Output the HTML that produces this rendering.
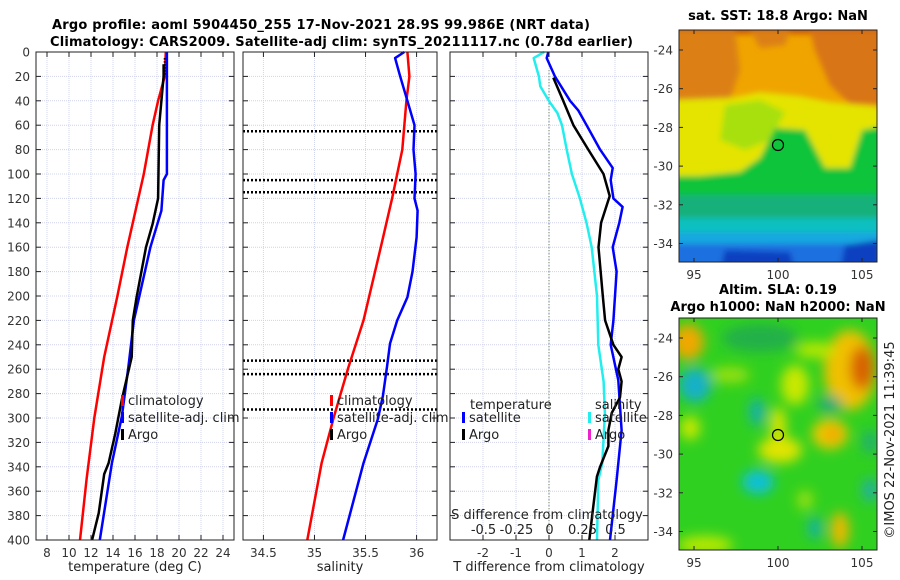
<!DOCTYPE html>
<html><head><meta charset="utf-8">
<style>
html,body{margin:0;padding:0;background:#fff;}
svg{display:block;font-family:"DejaVu Sans","Liberation Sans",sans-serif;}
.tk{font-size:12px;fill:#333;}
.tt{font-size:13px;font-weight:bold;fill:#000;}
.lg{font-size:13px;fill:#222;}
</style></head>
<body>
<svg id="fig" width="900" height="580" viewBox="0 0 900 580">
<defs>
<filter id="bl" x="-10%" y="-10%" width="120%" height="120%"><feGaussianBlur stdDeviation="3"/></filter>
<filter id="bl2" x="-10%" y="-10%" width="120%" height="120%"><feGaussianBlur stdDeviation="6"/></filter>
<clipPath id="c1"><rect x="679" y="30" width="198" height="232"/></clipPath>
<clipPath id="c2"><rect x="679" y="318" width="198" height="232"/></clipPath>
</defs>
<text class="tt" x="52" y="29" textLength="538">Argo profile: aoml 5904450_255 17-Nov-2021 28.9S 99.986E (NRT data)</text>
<text class="tt" x="50" y="46" textLength="583">Climatology: CARS2009. Satellite-adj clim: synTS_20211117.nc (0.78d earlier)</text>

<g id="p1"></g>
<g id="p2"></g>
<g id="p3"></g>

<!-- SST map -->
<g>
<text class="tt" x="778" y="20" text-anchor="middle">sat. SST: 18.8 Argo: NaN</text>
<g clip-path="url(#c1)">
<rect x="679" y="30" width="198" height="232" fill="#f0a400"/>
<g filter="url(#bl)">
<rect x="670" y="20" width="220" height="14" fill="#c85a10"/>
<path d="M670 30 L735 30 L740 70 L730 100 L700 102 L670 100Z" fill="#dc8018"/>
<path d="M750 30 L790 30 L785 45 L760 48Z" fill="#dc8018"/>
<path d="M810 30 L890 30 L890 105 L850 104 L830 85 L815 50Z" fill="#d87418"/>
<path d="M670 100 L730 98 L760 92 L800 96 L830 102 L890 108 L890 160 L870 163 L850 168 L825 168 L805 140 L775 128 L760 158 L740 172 L700 176 L670 176Z" fill="#e4e400"/>
<path d="M725 105 L760 100 L785 112 L770 140 L745 150 L720 140Z" fill="#a8e010"/>
<path d="M670 176 L700 176 L740 172 L760 158 L775 128 L805 130 L825 168 L850 168 L862 130 L890 125 L890 205 L670 205Z" fill="#10c43a"/>
<rect x="670" y="195" width="220" height="25" fill="#14b07a"/>
<rect x="670" y="218" width="220" height="18" fill="#10c0c0"/>
<rect x="670" y="232" width="220" height="14" fill="#18a8e0"/>
<rect x="670" y="244" width="220" height="26" fill="#1a70e0"/>
<path d="M725 250 L790 252 L795 270 L720 270Z" fill="#1040c0"/>
<path d="M845 245 L880 240 L880 270 L840 270Z" fill="#1040c0"/>
</g>
</g>
<rect x="679" y="30" width="198" height="232" fill="none" stroke="#222" stroke-width="1"/>
<circle cx="778" cy="145" r="5.5" fill="none" stroke="#000" stroke-width="1.2"/>
<g id="m1ax"></g>
</g>

<!-- SLA map -->
<g>
<text class="tt" x="778" y="294" text-anchor="middle">Altim. SLA: 0.19</text>
<text class="tt" x="778" y="311" text-anchor="middle">Argo h1000: NaN h2000: NaN</text>
<g clip-path="url(#c2)">
<rect x="679" y="318" width="198" height="232" fill="#30d020"/>
<g filter="url(#bl2)">
<ellipse cx="760" cy="338" rx="38" ry="14" fill="#20b048"/>
<ellipse cx="688" cy="342" rx="16" ry="18" fill="#f0a800"/>
<ellipse cx="850" cy="370" rx="26" ry="40" fill="#f0c000"/>
<ellipse cx="862" cy="368" rx="12" ry="22" fill="#d86000"/>
<ellipse cx="815" cy="350" rx="20" ry="8" fill="#b8e800"/>
<ellipse cx="795" cy="385" rx="14" ry="20" fill="#c8e800"/>
<ellipse cx="730" cy="375" rx="20" ry="8" fill="#98e010"/>
<ellipse cx="780" cy="450" rx="22" ry="13" fill="#e0e400"/>
<ellipse cx="778" cy="425" rx="8" ry="18" fill="#d8e400"/>
<ellipse cx="830" cy="434" rx="18" ry="15" fill="#f0c800"/>
<ellipse cx="833" cy="434" rx="8" ry="7" fill="#f0a000"/>
<ellipse cx="690" cy="428" rx="10" ry="12" fill="#c8e800"/>
<ellipse cx="695" cy="385" rx="16" ry="17" fill="#18b0c8"/>
<ellipse cx="757" cy="412" rx="8" ry="14" fill="#18b0a8"/>
<ellipse cx="758" cy="482" rx="16" ry="12" fill="#10c0d8"/>
<ellipse cx="830" cy="404" rx="12" ry="8" fill="#20a880"/>
<ellipse cx="815" cy="528" rx="7" ry="11" fill="#18b0a8"/>
<ellipse cx="840" cy="530" rx="9" ry="18" fill="#f0b800"/>
<ellipse cx="705" cy="545" rx="28" ry="9" fill="#b8e800"/>
<ellipse cx="870" cy="490" rx="8" ry="12" fill="#20b0a0"/>
<ellipse cx="870" cy="442" rx="8" ry="12" fill="#20b070"/>
<ellipse cx="805" cy="500" rx="8" ry="10" fill="#98e010"/>
</g>
</g>
<rect x="679" y="318" width="198" height="232" fill="none" stroke="#222" stroke-width="1"/>
<circle cx="778" cy="435" r="5.5" fill="none" stroke="#000" stroke-width="1.2"/>
<g id="m2ax"></g>
<text class="lg" transform="translate(894,440) rotate(-90)" text-anchor="middle" font-size="13">©IMOS 22-Nov-2021 11:39:45</text>
</g>
</svg>
<script>
// ===== data =====
const depthTicks = [0,20,40,60,80,100,120,140,160,180,200,220,240,260,280,300,320,340,360,380,400];
const tempTicks = [8,10,12,14,16,18,20,22,24];
const salTicks = [34.5,35,35.5,36];
const tdiffTicks = [-2,-1,0,1,2];
const sdiffTicks = [-0.5,-0.25,0,0.25,0.5];
const sdiffLabels = ["-0.5","-0.25","0","0.25","0.5"];

const climTDepth = [0,20,40,60,80,100,120,160,200,250,300,350,400];
const climT      = [18.8,18.7,18.1,17.6,17.2,16.8,16.3,15.3,14.4,13.2,12.3,11.6,11.0];
const satTDepth = [0,100,105,130,160,220,258,299,337,400];
const satT      = [18.9,18.9,18.6,18.4,17.4,15.9,15.4,14.8,13.9,12.8];
const argoTDepth = [10,20,40,60,120,141,160,201,220,250,285,313,337,346,378,400];
const argoT      = [18.6,18.6,18.4,18.2,18.1,17.6,17.0,16.15,15.8,15.7,14.8,14.2,13.6,13.2,12.7,12.1];
const argoTdotsDepth = [5,10,15,20];

const climSDepth = [0,20,40,80,100,120,160,220,259,299,337,400];
const climS      = [35.91,35.93,35.90,35.86,35.81,35.76,35.65,35.48,35.33,35.19,35.07,34.93];
const satSDepth = [0,5,20,40,60,80,100,120,130,152,180,201,220,239,258,282,301,337,400];
const satS      = [35.88,35.79,35.84,35.91,35.98,35.97,35.99,35.98,36.01,36.0,35.96,35.91,35.81,35.74,35.71,35.67,35.62,35.48,35.28];
const mixedLayerDepths = [65,105,115,253,264,293];

const dTsatDepth = [0,5,20,40,48,60,80,95,105,120,127,140,160,180,220,240,269,310,351,400];
const dTsat      = [-0.02,-0.07,0.18,0.64,0.89,1.14,1.55,1.93,1.87,1.95,2.23,2.13,1.93,2.05,1.95,1.87,2.1,2.2,2.05,1.85];
const dTargoDepth = [21,40,60,80,100,118,140,160,200,220,240,250,260,270,283,296,310,323,340,348,373,400];
const dTargo      = [0.13,0.43,0.74,1.19,1.65,1.84,1.58,1.50,1.63,1.7,1.95,2.2,2.1,2.2,2.15,1.9,1.8,1.8,1.55,1.45,1.34,1.22];
const dSsatDepth = [0,5,20,28,40,50,60,80,100,120,140,160,200,240,270,296,337,351,400];
const dSsat      = [-0.04,-0.12,-0.08,-0.07,-0.005,0.06,0.095,0.13,0.17,0.23,0.28,0.32,0.36,0.37,0.41,0.42,0.40,0.37,0.36];

const mapLonTicks = [95,100,105];
const mapLatTicks = [-24,-26,-28,-30,-32,-34];

// ===== helpers =====
const NS = "http://www.w3.org/2000/svg";
function mk(parent, tag, attrs, txt){
  const e = document.createElementNS(NS, tag);
  for (const k in attrs) e.setAttribute(k, attrs[k]);
  if (txt !== undefined) e.textContent = txt;
  parent.appendChild(e);
  return e;
}
const Y0 = 52, Y1 = 540;
function yD(d){ return Y0 + (d/400)*(Y1-Y0); }
function lin(d0,d1,r0,r1){ return v => r0 + (v-d0)/(d1-d0)*(r1-r0); }

function frame(g, x0, x1, xs, xticks){
  xticks.forEach(t => {
    const l = mk(g,'line',{x1:xs(t),x2:xs(t),y1:Y0,y2:Y1,stroke:'#d0d4ec','stroke-width':1,'stroke-dasharray':'1,1'});
    
    
  });
  depthTicks.forEach(d => {
    const l = mk(g,'line',{x1:x0,x2:x1,y1:yD(d),y2:yD(d),stroke:'#d0d4ec','stroke-width':1,'stroke-dasharray':'1,1'});
    
    
  });
}
function axes(g, x0, x1, xs, xticks, xlabels, showY, tickLabelsBelow){
  const r = mk(g,'rect',{x:x0,y:Y0,width:x1-x0,height:Y1-Y0,fill:'none',stroke:'#222','stroke-width':1});
  
  
  depthTicks.forEach(d => {
    mk(g,'line',{x1:x0,x2:x0+5,y1:yD(d),y2:yD(d),stroke:'#222'});
    mk(g,'line',{x1:x1-5,x2:x1,y1:yD(d),y2:yD(d),stroke:'#222'});
    if (showY){
      const t = mk(g,'text',{x:x0-6,y:yD(d)+4.5,'text-anchor':'end',class:'tk'}, String(d));
      
      
    }
  });
  xticks.forEach((v,i) => {
    mk(g,'line',{x1:xs(v),x2:xs(v),y1:Y1,y2:Y1-5,stroke:'#222'});
    mk(g,'line',{x1:xs(v),x2:xs(v),y1:Y0,y2:Y0+5,stroke:'#222'});
    if (tickLabelsBelow){
      const t = mk(g,'text',{x:xs(v),y:Y1+17,'text-anchor':'middle',class:'tk'}, xlabels[i]);
      
      
    }
  });
}
function line(g, xs, vals, depths, color, w, name){
  const pts = vals.map((v,i)=> xs(v).toFixed(1)+','+yD(depths[i]).toFixed(1)).join(' ');
  const p = mk(g,'polyline',{points:pts,fill:'none',stroke:color,'stroke-width':w,'stroke-linejoin':'round'});
  
  
  return p;
}
function legendEntry(g, x, y, color, label, name){
  mk(g,'rect',{x:x,y:y-10,width:3,height:11,fill:color});
  const t = mk(g,'text',{x:x+7,y:y,class:'lg'}, label);
  
  
}

// ===== panel 1: temperature =====
(function(){
  const g = document.getElementById('p1');
  const x0=36, x1=234, xs = lin(7,25,x0,x1);
  frame(g,x0,x1,xs,tempTicks);
  line(g,xs,climT,climTDepth,'#ff0000',2.5,'climatology-temp-line');
  line(g,xs,satT,satTDepth,'#0000ff',2.5,'satellite-temp-line');
  line(g,xs,argoT,argoTDepth,'#000000',2.5,'argo-temp-line');
  const dp = mk(g,'polyline',{points:argoTdotsDepth.map(d=>xs(18.7)+','+yD(d)).join(' '),fill:'none',stroke:'#000','stroke-width':2,'stroke-dasharray':'1.5,1.5'});
  
  
  axes(g,x0,x1,xs,tempTicks,tempTicks.map(String),true,true);
  legendEntry(g,121,405,'#ff0000','climatology','legend-climatology');
  legendEntry(g,121,422,'#0000ff','satellite-adj. clim','legend-satellite-adj');
  legendEntry(g,121,439,'#000000','Argo','legend-argo');
  const t = mk(g,'text',{x:(x0+x1)/2,y:571,'text-anchor':'middle',class:'lg'},'temperature (deg C)');
  
  
})();

// ===== panel 2: salinity =====
(function(){
  const g = document.getElementById('p2');
  const x0=243, x1=437, xs = lin(34.3,36.2,x0,x1);
  frame(g,x0,x1,xs,salTicks);
  mixedLayerDepths.forEach(d=>{
    const l = mk(g,'line',{x1:x0,x2:x1,y1:yD(d),y2:yD(d),stroke:'#000','stroke-width':2.5,'stroke-dasharray':'2,2'});
    
    
  });
  line(g,xs,climS,climSDepth,'#ff0000',2.5,'climatology-salinity-line');
  line(g,xs,satS,satSDepth,'#0000ff',2.5,'satellite-salinity-line');
  axes(g,x0,x1,xs,salTicks,salTicks.map(String),false,true);
  legendEntry(g,330,405,'#ff0000','climatology','legend-climatology-s');
  legendEntry(g,330,422,'#0000ff','satellite-adj. clim','legend-satellite-adj-s');
  legendEntry(g,330,439,'#000000','Argo','legend-argo-s');
  const t = mk(g,'text',{x:(x0+x1)/2,y:571,'text-anchor':'middle',class:'lg'},'salinity');
  
  
})();

// ===== panel 3: differences =====
(function(){
  const g = document.getElementById('p3');
  const x0=450, x1=648, xs = lin(-3,3,x0,x1);
  const ss = lin(-0.75,0.75,x0+0.5,x1+0.5);
  frame(g,x0,x1,xs,tdiffTicks);
  const z = mk(g,'line',{x1:xs(0),x2:xs(0),y1:yD(15),y2:Y1,stroke:'#556b2f','stroke-width':1,'stroke-dasharray':'1,2'});
  
  
  line(g,ss,dSsat,dSsatDepth,'#22eeee',2.5,'satellite-salinity-diff-line');
  line(g,xs,dTsat,dTsatDepth,'#0000ff',2.5,'satellite-temp-diff-line');
  line(g,xs,dTargo,dTargoDepth,'#000000',2.5,'argo-temp-diff-line');
  axes(g,x0,x1,xs,tdiffTicks,tdiffTicks.map(String),false,true);
  sdiffTicks.forEach((v,i)=>{
    const t = mk(g,'text',{x:ss(v),y:534,'text-anchor':'middle',class:'lg'}, sdiffLabels[i]);
    
    
  });
  const st = mk(g,'text',{x:547,y:519,'text-anchor':'middle',class:'lg'},'S difference from climatology');
  
  
  const t1 = mk(g,'text',{x:470,y:409,class:'lg'},'temperature');
  
  
  legendEntry(g,462,422,'#0000ff','satellite','legend-t-satellite');
  legendEntry(g,462,439,'#000000','Argo','legend-t-argo');
  const t2 = mk(g,'text',{x:595,y:409,class:'lg'},'salinity');
  
  
  legendEntry(g,588,422,'#22eeee','satellite','legend-s-satellite');
  legendEntry(g,588,439,'#ee22cc','Argo','legend-s-argo');
  const t = mk(g,'text',{x:(x0+x1)/2,y:571,'text-anchor':'middle',class:'lg'},'T difference from climatology');
  
  
})();

// ===== map axes =====
function mapAxes(id, top){
  const g = document.getElementById(id);
  const xs = lin(95,105,694,862);
  const ys = lat => top + 20 + (-24 - lat)*19.35;
  mapLonTicks.forEach(v=>{
    mk(g,'line',{x1:xs(v),x2:xs(v),y1:top+232,y2:top+228,stroke:'#222'});
    mk(g,'line',{x1:xs(v),x2:xs(v),y1:top,y2:top+4,stroke:'#222'});
    const t = mk(g,'text',{x:xs(v),y:top+249,'text-anchor':'middle',class:'tk'},String(v));
    
    
  });
  mapLatTicks.forEach(v=>{
    mk(g,'line',{x1:679,x2:683,y1:ys(v),y2:ys(v),stroke:'#222'});
    mk(g,'line',{x1:873,x2:877,y1:ys(v),y2:ys(v),stroke:'#222'});
    const t = mk(g,'text',{x:673,y:ys(v)+4.5,'text-anchor':'end',class:'tk'},String(v));
    
    
  });
}
mapAxes('m1ax',30);
mapAxes('m2ax',318);
</script>
</body></html>
